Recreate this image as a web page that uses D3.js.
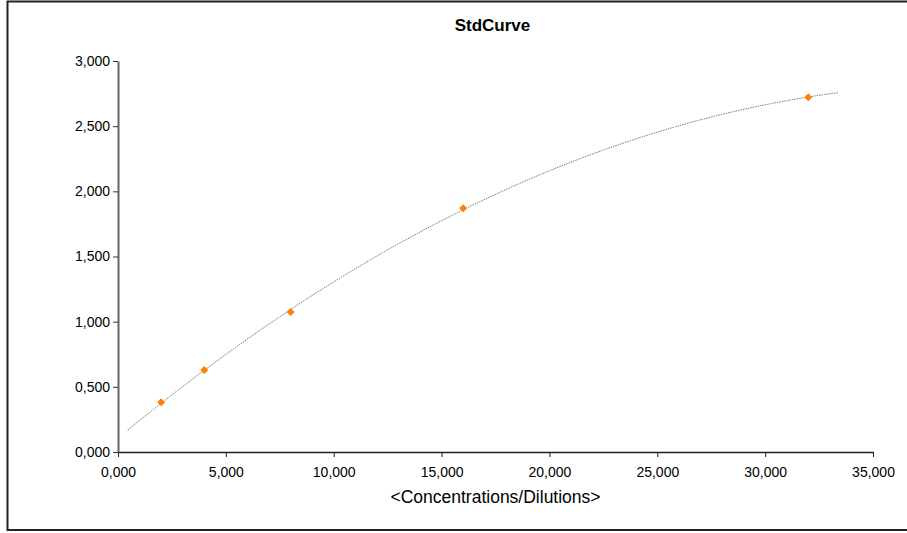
<!DOCTYPE html>
<html>
<head>
<meta charset="utf-8">
<script src="https://cdn.jsdelivr.net/npm/d3@7"></script>
<style>
  html, body { margin: 0; padding: 0; background: #fff; }
  svg { display: block; }
  text { font-family: "Liberation Sans", Arial, sans-serif; fill: #000; }
</style>
</head>
<body>
<svg id="chart" width="907" height="533"></svg>
<script>
// ---- data ----
const title = "StdCurve";
const xTitle = "<Concentrations/Dilutions>";
const concentrations = [2, 4, 8, 16, 32];
const responses = [0.381, 0.629, 1.074, 1.870, 2.722];
const xTicks = [0, 5, 10, 15, 20, 25, 30, 35];
const yTicks = [0, 0.5, 1, 1.5, 2, 2.5, 3];
const trendRange = [0.45, 33.4];   // extent of the polynomial trendline

// ---- layout ----
const W = 907, H = 533;
const svg = d3.select("#chart");
const x = d3.scaleLinear().domain([0, 35]).range([118, 873]);
const y = d3.scaleLinear().domain([0, 3]).range([452, 61]);

const loc = d3.formatLocale({decimal: ",", thousands: ".", grouping: [3], currency: ["", ""]});
const fmt = loc.format(".3f");

// outer frame
svg.append("rect")
  .attr("x", 7.5).attr("y", 1.5).attr("width", 1000).attr("height", 528.5)
  .attr("fill", "none").attr("stroke", "#222").attr("stroke-width", 2);

// title
svg.append("text").attr("x", 492.5).attr("y", 31)
  .attr("text-anchor", "middle").attr("font-weight", "bold").attr("font-size", 17)
  .text(title);

// x axis
const gx = svg.append("g").attr("transform", `translate(0,${y(0)})`)
  .call(d3.axisBottom(x).tickValues(xTicks).tickFormat(fmt).tickSize(5).tickSizeOuter(0));
gx.select(".domain").attr("stroke", "#222").attr("stroke-width", 1.3);
gx.selectAll(".tick line").attr("stroke", "#222");
gx.selectAll(".tick text").attr("font-size", 14).attr("dy", "0").attr("y", 24.5)
  .style("font-family", "'Liberation Sans', Arial, sans-serif");

// y axis
const gy = svg.append("g").attr("transform", `translate(${x(0)},0)`)
  .call(d3.axisLeft(y).tickValues(yTicks).tickFormat(fmt).tickSize(5).tickSizeOuter(0));
gy.select(".domain").attr("stroke", "#666").attr("stroke-width", 2);
gy.selectAll(".tick line").attr("stroke", "#333");
gy.selectAll(".tick text").attr("font-size", 14).attr("x", -8)
  .style("font-family", "'Liberation Sans', Arial, sans-serif");

// x axis title
svg.append("text").attr("x", 495.5).attr("y", 503)
  .attr("text-anchor", "middle").attr("font-size", 17.5)
  .text(xTitle);

// polynomial (order 2) least-squares trendline computed from the data points
function quadFit(xs, ys) {
  const n = xs.length;
  let s = [0,0,0,0,0], t = [0,0,0];
  for (let i = 0; i < n; i++) {
    for (let k = 0; k < 5; k++) s[k] += Math.pow(xs[i], k);
    for (let k = 0; k < 3; k++) t[k] += ys[i] * Math.pow(xs[i], k);
  }
  const M = [[s[0], s[1], s[2], t[0]], [s[1], s[2], s[3], t[1]], [s[2], s[3], s[4], t[2]]];
  for (let i = 0; i < 3; i++) {
    for (let j = i + 1; j < 3; j++) {
      const f = M[j][i] / M[i][i];
      for (let k = i; k < 4; k++) M[j][k] -= f * M[i][k];
    }
  }
  const c = [0,0,0];
  for (let i = 2; i >= 0; i--) {
    let v = M[i][3];
    for (let k = i + 1; k < 3; k++) v -= M[i][k] * c[k];
    c[i] = v / M[i][i];
  }
  return c;
}
const coef = quadFit(concentrations, responses);
const trendX = d3.range(trendRange[0], trendRange[1], 0.1).concat([trendRange[1]]);
const line = d3.line().x(d => x(d)).y(d => y(coef[0] + coef[1] * d + coef[2] * d * d));
svg.append("path").datum(trendX).attr("d", line)
  .attr("fill", "none").attr("stroke", "#777").attr("stroke-width", 1)
  .attr("stroke-dasharray", "1.5,1");

// data points (orange diamonds)
svg.append("g").selectAll("path").data(concentrations.map((c, i) => [c, responses[i]]))
  .join("path")
  .attr("transform", d => `translate(${x(d[0])},${y(d[1])}) rotate(45)`)
  .attr("d", d3.symbol(d3.symbolSquare, 32)())
  .attr("fill", "#FF8000");
</script>
</body>
</html>
